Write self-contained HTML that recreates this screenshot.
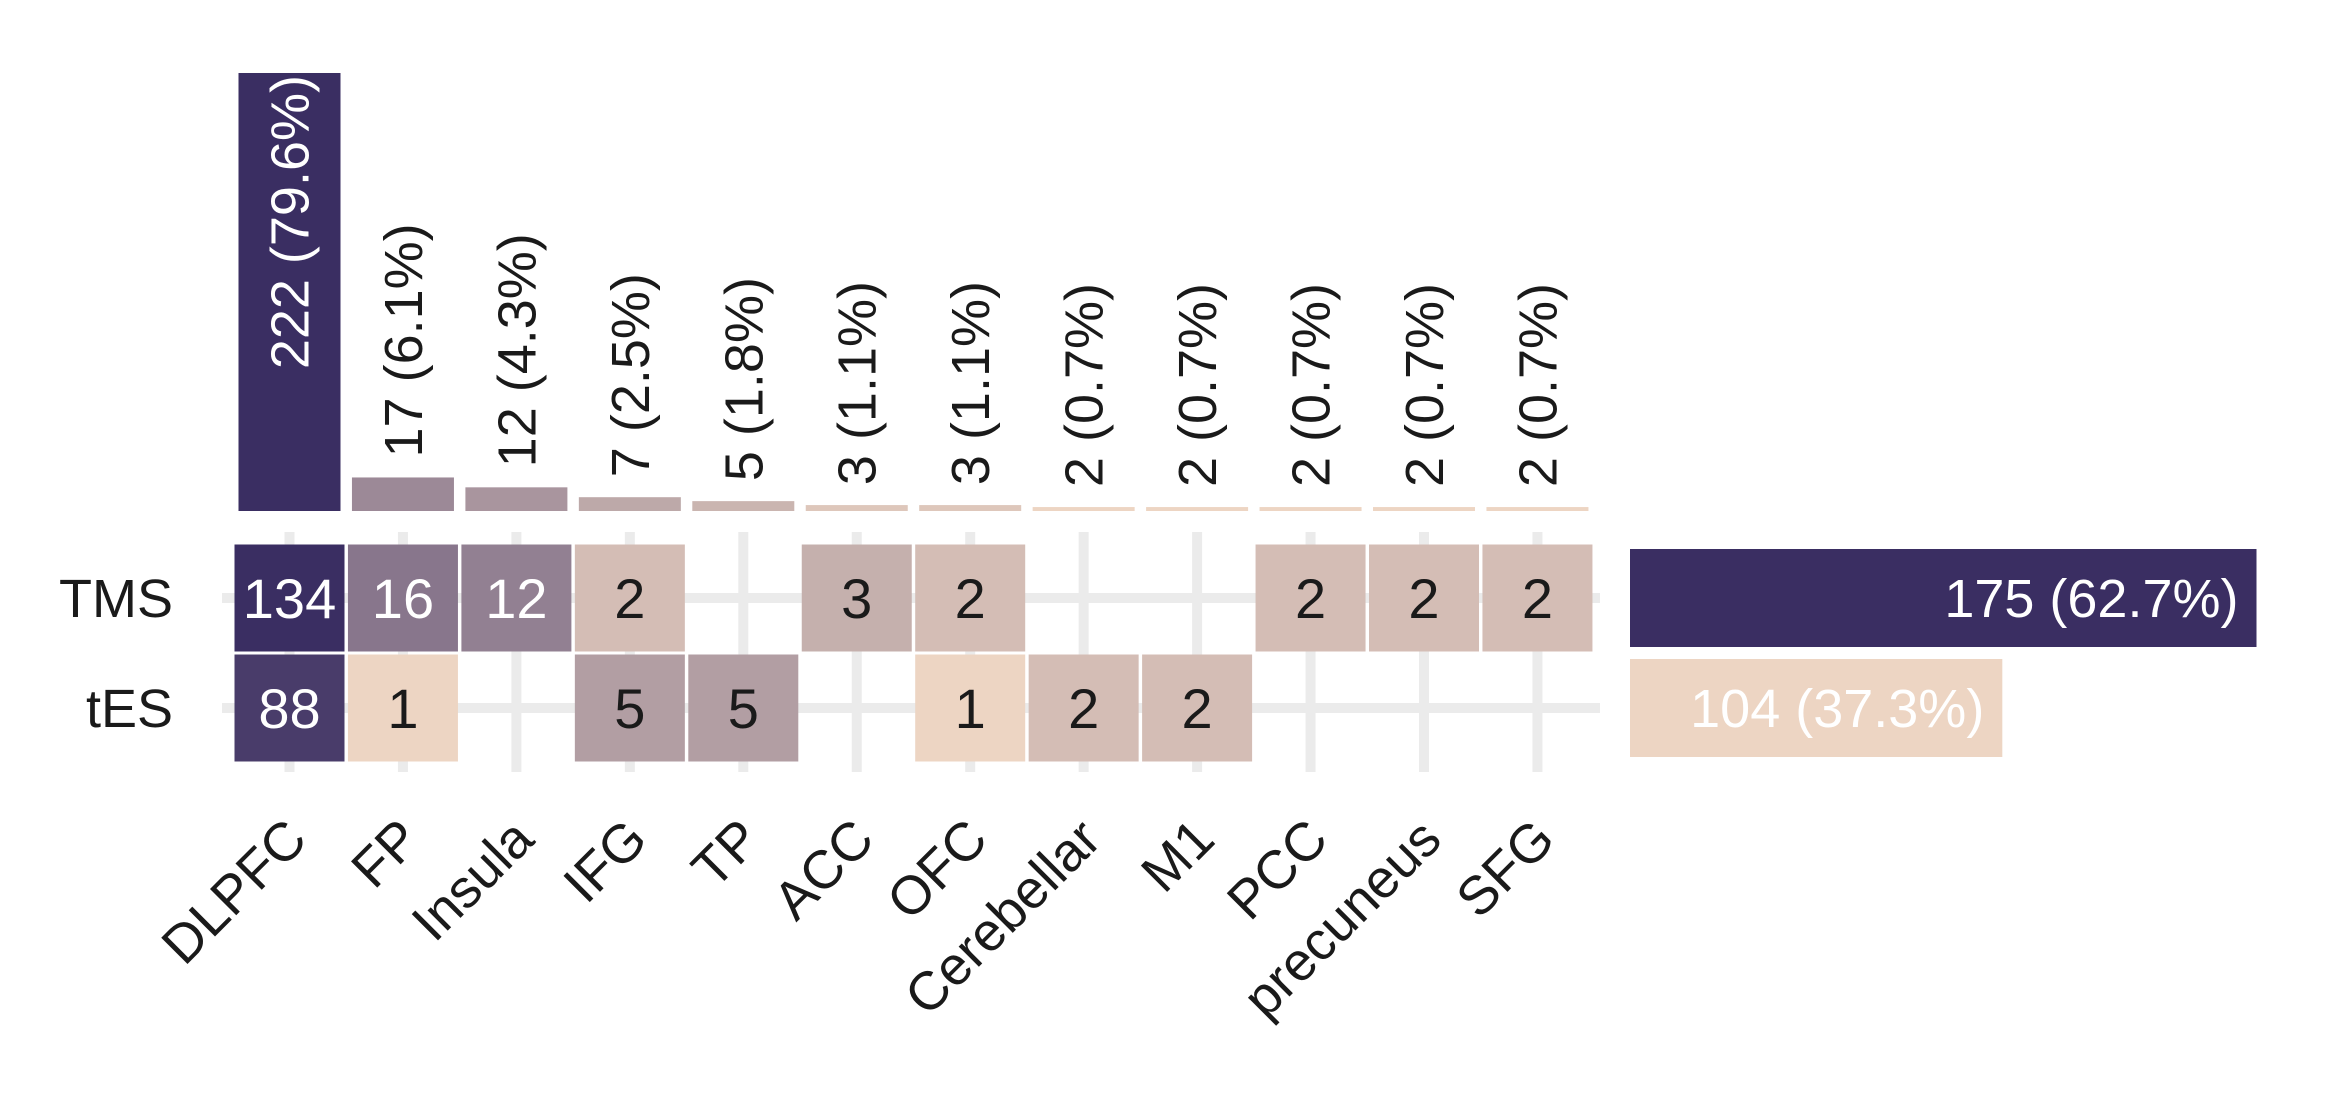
<!DOCTYPE html>
<html><head><meta charset="utf-8"><style>
html,body{margin:0;padding:0;background:#fff;}
svg{display:block;font-family:"Liberation Sans",sans-serif;}
</style></head><body>
<svg id="chart" width="2342" height="1102" viewBox="0 0 2342 1102"></svg>
<script>
const regions = ["DLPFC","FP","Insula","IFG","TP","ACC","OFC","Cerebellar","M1","PCC","precuneus","SFG"];
const tmsValues = [134,16,12,2,null,3,2,null,null,2,2,2];
const tesValues = [88,1,null,5,5,null,1,2,2,null,null,null];
const totalValues = [222,17,12,7,5,3,3,2,2,2,2,2];
const totalLabels = ["222 (79.6%)","17 (6.1%)","12 (4.3%)","7 (2.5%)","5 (1.8%)","3 (1.1%)","3 (1.1%)","2 (0.7%)","2 (0.7%)","2 (0.7%)","2 (0.7%)","2 (0.7%)"];
const methods = ["TMS","tES"];
const methodTotals = [175,104];
const methodLabels = ["175 (62.7%)","104 (37.3%)"];

const NS="http://www.w3.org/2000/svg";
const svg=document.getElementById('chart');
function mk(tag,attrs,parent){const e=document.createElementNS(NS,tag);for(const k in attrs)e.setAttribute(k,attrs[k]);(parent||svg).appendChild(e);return e;}
const LOW=[237,213,195],HIGH=[58,46,98];
function mix(t){t=Math.max(0,Math.min(1,t));return 'rgb('+LOW.map((c,i)=>Math.round(c+(HIGH[i]-c)*t)).join(',')+')';}
function tileColor(v){return mix(Math.log(v)/Math.log(134));}
function barColor(v){return mix(Math.log(v/2)/Math.log(111));}
function sideColor(v){return mix((v-104)/(175-104));}

const x0=289.5,pitch=113.45;
function xc(i){return x0+i*pitch;}
const rowCenter=[598,708];
const tileW=110,tileH=107;
const barBase=511,perUnit=1.973;
function yBar(v){return barBase-v*perUnit;}
const sideX0=1630,sidePer=3.58;
function xSide(v){return sideX0+v*sidePer;}
const FS=54, TFS=56;

const grid=mk('g',{},svg);


rowCenter.forEach((y,r)=>{const l=mk('rect',{x:222,y:y-5,width:1378,height:10,fill:'#ebebeb'},grid);

});
regions.forEach((n,i)=>{const l=mk('rect',{x:xc(i)-5,y:532,width:10,height:240,fill:'#ebebeb'},grid);

});

[tmsValues,tesValues].forEach((vals,r)=>{
  vals.forEach((v,i)=>{
    if(v==null)return;
    const g=mk('g',{});
    
    
    mk('rect',{x:xc(i)-tileW/2,y:rowCenter[r]-tileH/2,width:tileW,height:tileH,fill:tileColor(v)},g);
    const t=mk('text',{x:xc(i),y:rowCenter[r]+20,'text-anchor':'middle','font-size':TFS,fill:v>=12?'#fff':'#1a1a1a'},g);
    t.textContent=v;
  });
});

totalValues.forEach((v,i)=>{
  const g=mk('g',{});
  
  
  mk('rect',{x:xc(i)-51,y:yBar(v),width:102,height:v*perUnit,fill:barColor(v)},g);
  const inside=(i===0);
  const ty=inside?yBar(v)+2:yBar(v)-20;
  const tx=xc(i)+19;
  const t=mk('text',{x:tx,y:ty,'text-anchor':inside?'end':'start','font-size':FS,fill:inside?'#fff':'#1a1a1a',transform:'rotate(-90 '+tx+' '+ty+')'},g);
  t.textContent=totalLabels[i];
});

methodTotals.forEach((v,r)=>{
  const g=mk('g',{});
  
  
  mk('rect',{x:sideX0,y:rowCenter[r]-49,width:xSide(v)-sideX0,height:98,fill:sideColor(v)},g);
  const t=mk('text',{x:xSide(v)-18,y:rowCenter[r]+19,'text-anchor':'end','font-size':FS,fill:'#fff'},g);
  t.textContent=methodLabels[r];
});

methods.forEach((m,r)=>{
  const t=mk('text',{x:173,y:rowCenter[r]+19,'text-anchor':'end','font-size':FS,fill:'#1a1a1a'});
  
  
  t.textContent=m;
});

regions.forEach((n,i)=>{
  const ax=xc(i)+20, ay=842;
  const t=mk('text',{x:ax,y:ay,'text-anchor':'end','font-size':FS,fill:'#1a1a1a',transform:'rotate(-45 '+ax+' '+ay+')'});
  
  
  t.textContent=n;
});
</script>
</body></html>
